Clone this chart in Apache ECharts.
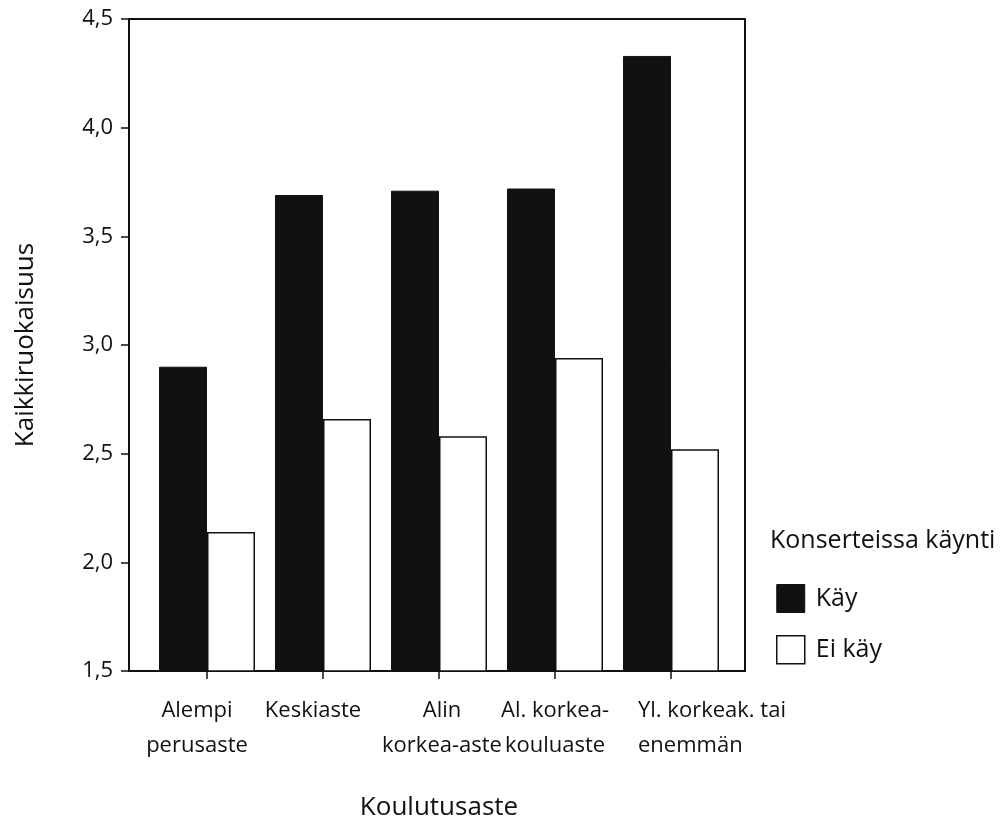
<!DOCTYPE html>
<html>
<head>
<meta charset="utf-8">
<script src="https://cdn.jsdelivr.net/npm/echarts@6/dist/echarts.min.js"></script>
<style>html,body{margin:0;padding:0;background:#fff}#c{width:1008px;height:818px}</style>
</head>
<body>
<div id="c"></div>
<script>
const categories = ['Alempi\nperusaste', 'Keskiaste', 'Alin\nkorkea-aste', 'Al. korkea-\nkouluaste', 'Yl. korkeak. tai\nenemmän'];
const kayValues = [2.90, 3.69, 3.71, 3.72, 4.33];
const eiKayValues = [2.14, 2.66, 2.58, 2.94, 2.52];
const seriesNames = ['Käy', 'Ei käy'];
const legendTitle = 'Konserteissa käynti';
const xTitle = 'Koulutusaste';
const yTitle = 'Kaikkiruokaisuus';

const FONT = 'Open Sans';
const INK = '#111';
// per-label rich style keys (layout only)
const labelStyleKey = ['sl', 'sl', 'sr', 'c', 'lf'];

const chart = echarts.init(document.getElementById('c'), null, {renderer: 'canvas'});
chart.setOption({
  backgroundColor: '#ffffff',
  animation: false,
  textStyle: {fontFamily: FONT, color: INK},
  title: {
    text: legendTitle, left: 765, top: 523,
    textStyle: {fontFamily: FONT, fontSize: 25, fontWeight: 'normal', color: INK}
  },
  legend: {
    orient: 'vertical', left: 771, top: 579, itemWidth: 28, itemHeight: 28, itemGap: 22,
    textStyle: {fontFamily: FONT, fontSize: 25, color: INK, padding: [0, 0, 0, 6]},
    data: [
      {name: seriesNames[0], icon: 'rect', itemStyle: {color: INK, borderColor: INK, borderWidth: 1}},
      {name: seriesNames[1], icon: 'rect', itemStyle: {color: '#fff', borderColor: INK, borderWidth: 1.5}}
    ]
  },
  grid: [
    {left: 129, right: 263, top: 19, bottom: 147, show: true, borderColor: INK, borderWidth: 2,
      backgroundColor: 'transparent', outerBoundsMode: 'none', containLabel: false},
    {left: 149, right: 279, top: 19, bottom: 147, outerBoundsMode: 'none', containLabel: false}
  ],
  xAxis: [
    {type: 'category', gridIndex: 0, data: categories, show: false},
    {type: 'category', gridIndex: 1, data: categories,
      axisLine: {show: false},
      axisTick: {show: true, alignWithLabel: true, length: 8, lineStyle: {color: INK, width: 1.5}},
      axisLabel: {
        fontFamily: FONT, fontSize: 22, color: INK, lineHeight: 35, margin: 22, interval: 0,
        formatter: (v, i) => v.split('\n').map(s => '{' + labelStyleKey[i] + '|' + s + '}').join('\n'),
        rich: {
          c:  {fontFamily: FONT, fontSize: 22, color: INK, lineHeight: 35},
          sl: {fontFamily: FONT, fontSize: 22, color: INK, lineHeight: 35, padding: [0, 20, 0, 0]},
          sr: {fontFamily: FONT, fontSize: 22, color: INK, lineHeight: 35, padding: [0, 0, 0, 6]},
          lf: {fontFamily: FONT, fontSize: 22, color: INK, lineHeight: 35, width: 66, align: 'left'}
        }
      },
      name: xTitle, nameLocation: 'middle', nameGap: 124,
      nameTextStyle: {fontFamily: FONT, fontSize: 26, color: INK}
    }
  ],
  yAxis: [
    {type: 'value', gridIndex: 0, min: 1.5, max: 4.5, interval: 0.5,
      axisLine: {show: true, lineStyle: {color: INK, width: 2}},
      axisTick: {show: true, length: 8, lineStyle: {color: INK, width: 1.5}},
      splitLine: {show: false},
      axisLabel: {fontFamily: FONT, fontSize: 22, color: INK, margin: 16,
        formatter: v => v.toFixed(1).replace('.', ',')},
      name: yTitle, nameLocation: 'middle', nameGap: 90, nameRotate: 90,
      nameTextStyle: {fontFamily: FONT, fontSize: 26, color: INK}
    },
    {type: 'value', gridIndex: 1, min: 1.5, max: 4.5, interval: 0.5, show: false, splitLine: {show: false}}
  ],
  series: [
    {name: seriesNames[0], type: 'bar', xAxisIndex: 1, yAxisIndex: 1, data: kayValues,
      barWidth: 48, barGap: '0%', itemStyle: {color: INK, borderColor: INK, borderWidth: 1}},
    {name: seriesNames[1], type: 'bar', xAxisIndex: 1, yAxisIndex: 1, data: eiKayValues,
      barWidth: 48, barGap: '0%', itemStyle: {color: '#fff', borderColor: INK, borderWidth: 1.5}}
  ]
});
</script>
</body>
</html>
